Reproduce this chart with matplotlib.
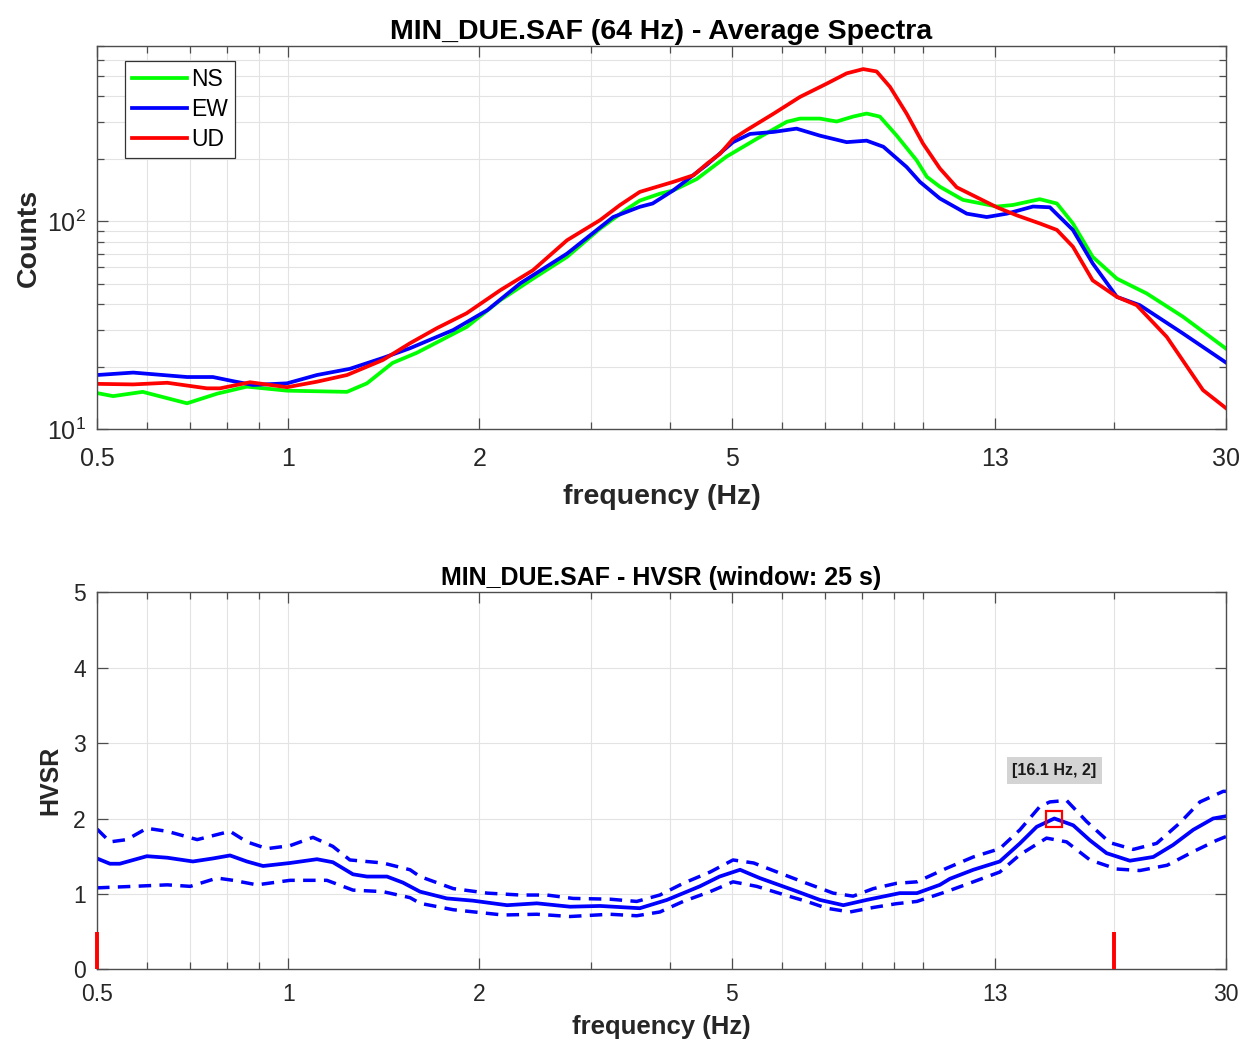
import numpy as np
import matplotlib
matplotlib.use("Agg")
import matplotlib.pyplot as plt
from matplotlib.ticker import FixedLocator, FixedFormatter, LogLocator, NullFormatter, MultipleLocator

plt.rcParams["font.family"] = ["Liberation Sans", "DejaVu Sans"]
plt.rcParams["mathtext.fontset"] = "custom"
plt.rcParams["mathtext.rm"] = "Liberation Sans"
plt.rcParams["mathtext.it"] = "Liberation Sans:italic"
plt.rcParams["mathtext.bf"] = "Liberation Sans:bold"
plt.rcParams["lines.scale_dashes"] = False
plt.rcParams["lines.solid_joinstyle"] = "round"
plt.rcParams["lines.dash_joinstyle"] = "round"

# ---- average spectra (Counts) ----
ns_freq = [0.5, 0.53, 0.59, 0.693, 0.773, 0.861, 0.996, 1.238, 1.331, 1.46, 1.595, 1.91,
           2.16, 2.43, 2.75, 3.10, 3.42, 3.58, 3.85, 4.04, 4.40, 4.90, 5.47, 6.10, 6.40,
           6.88, 7.31, 7.76, 8.15, 8.55, 9.08, 9.77, 10.14, 10.63, 11.56, 13.07, 13.85,
           15.27, 16.25, 17.22, 18.5, 20.2, 22.5, 25.65, 30.0]
ns_counts = [14.9, 14.4, 15.1, 13.3, 14.8, 16.0, 15.3, 15.1, 16.6, 20.8, 23.3, 31.0,
             41.8, 53.0, 67.5, 92.4, 115, 126, 136, 141, 160, 205, 250, 302, 313,
             313, 303, 320, 331, 320, 260, 197, 164, 147, 127, 118, 120,
             128, 122, 97.8, 67.5, 53.0, 45.0, 34.8, 24.4]

ew_freq = [0.5, 0.57, 0.693, 0.761, 0.819, 0.88, 0.996, 1.11, 1.251, 1.41, 1.556, 1.82,
           2.06, 2.32, 2.75, 3.25, 3.58, 3.75, 4.04, 4.56, 5.02, 5.34, 5.82, 6.32, 6.88,
           7.58, 8.15, 8.66, 9.42, 9.89, 10.63, 11.72, 12.6, 13.55, 14.9, 15.84, 17.22,
           18.5, 20.2, 21.95, 25.65, 30.0]
ew_counts = [18.2, 18.7, 17.8, 17.8, 17.0, 16.3, 16.6, 18.2, 19.5, 22.0, 24.5, 30.0,
             37.4, 50.3, 70.0, 105, 117.6, 122, 141, 187, 241, 264, 270, 280, 259,
             241, 245, 229, 183, 155, 129, 109, 105, 109, 118, 117, 91.0,
             62.8, 43.3, 39.5, 28.9, 20.9]

ud_freq = [0.5, 0.57, 0.645, 0.745, 0.781, 0.871, 0.996, 1.11, 1.238, 1.41, 1.556, 1.715,
           1.91, 2.16, 2.43, 2.75, 3.10, 3.33, 3.58, 4.04, 4.35, 4.57, 4.79, 5.02, 5.27,
           5.82, 6.40, 7.05, 7.58, 8.05, 8.45, 8.87, 9.42, 10.0, 10.63, 11.3, 13.07, 14.05,
           15.27, 16.25, 17.22, 18.5, 20.2, 21.7, 24.2, 27.6, 30.0]
ud_counts = [16.5, 16.4, 16.7, 15.7, 15.7, 16.8, 15.9, 16.9, 18.2, 21.5, 25.9, 30.6,
             36.1, 46.7, 58.2, 81.2, 101.5, 119.8, 138.8, 155, 167, 190, 212, 250, 275,
             331, 398, 461, 517, 542, 528, 445, 331, 237, 180, 146, 117, 107,
             97.8, 91.0, 75.6, 52.0, 43.3, 39.5, 27.8, 15.4, 12.6]

# ---- H/V spectral ratio ----
hv_freq = [0.5, 0.524, 0.543, 0.599, 0.645, 0.708, 0.761, 0.810, 0.861, 0.913, 1.007,
           1.11, 1.176, 1.265, 1.331, 1.431, 1.516, 1.613, 1.778, 1.955, 2.212, 2.465,
           2.78, 3.10, 3.58, 3.95, 4.45, 4.78, 5.15, 5.53, 6.25, 6.88, 7.49, 8.15, 9.19,
           9.78, 10.63, 11.02, 12.0, 13.21, 14.21, 15.1, 16.1, 17.24, 18.32, 19.46, 21.17,
           23.05, 24.77, 26.64, 28.64, 30.0]
hv_mean = [1.47, 1.40, 1.40, 1.50, 1.48, 1.43, 1.47, 1.51, 1.43, 1.37, 1.41,
           1.46, 1.42, 1.26, 1.23, 1.23, 1.15, 1.03, 0.94, 0.91, 0.85, 0.875,
           0.83, 0.84, 0.81, 0.92, 1.10, 1.23, 1.32, 1.21, 1.05, 0.92, 0.85, 0.92, 1.01,
           1.01, 1.12, 1.20, 1.32, 1.43, 1.67, 1.89, 2.00, 1.91, 1.71, 1.54, 1.44,
           1.49, 1.65, 1.85, 2.00, 2.03]

hv_up_freq = [0.5, 0.524, 0.557, 0.599, 0.645, 0.719, 0.810, 0.861, 0.926, 1.007, 1.094,
              1.176, 1.251, 1.41, 1.556, 1.613, 1.82, 2.06, 2.32, 2.556, 2.81, 3.21, 3.54,
              3.85, 4.19, 4.62, 5.02, 5.41, 6.06, 6.56, 7.22, 7.76, 8.35, 9.08, 9.78,
              10.89, 12.0, 13.21, 14.21, 15.28, 15.84, 16.83, 18.1, 19.69, 21.43, 23.33,
              25.37, 27.3, 29.7, 30.0]
hv_upper = [1.86, 1.69, 1.72, 1.87, 1.83, 1.72, 1.83, 1.69, 1.60, 1.64, 1.75,
            1.63, 1.45, 1.41, 1.32, 1.23, 1.07, 1.01, 0.985, 0.985, 0.94, 0.93, 0.90,
            0.985, 1.14, 1.29, 1.45, 1.41, 1.25, 1.14, 1.01, 0.97, 1.07, 1.14, 1.16,
            1.34, 1.49, 1.60, 1.85, 2.16, 2.22, 2.24, 1.96, 1.68, 1.59, 1.67,
            1.94, 2.22, 2.36, 2.36]

hv_lo_freq = [0.5, 0.570, 0.645, 0.701, 0.773, 0.819, 0.893, 1.007, 1.151, 1.265, 1.41,
              1.556, 1.613, 1.82, 2.18, 2.465, 2.78, 3.21, 3.54, 3.85, 4.19, 4.62, 5.02,
              5.47, 6.06, 6.56, 7.05, 7.67, 8.35, 9.08, 9.78, 10.89, 12.0, 13.21, 14.21,
              15.65, 16.83, 18.32, 20.18, 21.95, 24.24, 26.64, 29.0, 30.0]
hv_lower = [1.08, 1.10, 1.12, 1.10, 1.21, 1.18, 1.12, 1.18, 1.18, 1.05, 1.03,
            0.95, 0.875, 0.79, 0.72, 0.73, 0.70, 0.73, 0.71, 0.76, 0.90, 1.03, 1.16,
            1.10, 0.985, 0.90, 0.81, 0.76, 0.82, 0.87, 0.90, 1.03, 1.16, 1.29, 1.52,
            1.74, 1.69, 1.45, 1.33, 1.31, 1.38, 1.56, 1.71, 1.76]

range_limits = [0.5, 20.0]      # analysed frequency range
limit_mark_height = 0.5
peak_freq = 16.1
peak_hvsr = 2.0

freq_ticks = [0.5, 1, 2, 5, 13, 30]
freq_tick_labels = ["0.5", "1", "2", "5", "13", "30"]

TXT = "#262626"
AX = "#4d4d4d"
GRID = "#e3e3e3"

fig = plt.figure(figsize=(12.44, 10.39), dpi=100)
ax1 = fig.add_axes([0.078, 0.5871, 0.9075, 0.3686])
ax2 = fig.add_axes([0.078, 0.0671, 0.9075, 0.3628])


def style_freq_axis(ax, tick_size, xpad):
    ax.set_xscale("log")
    ax.set_xlim(0.5, 30)
    ax.xaxis.set_major_locator(FixedLocator(freq_ticks))
    ax.xaxis.set_major_formatter(FixedFormatter(freq_tick_labels))
    ax.xaxis.set_minor_locator(LogLocator(base=10, subs=np.arange(1, 10), numticks=20))
    ax.xaxis.set_minor_formatter(NullFormatter())
    ax.tick_params(which="both", direction="in", top=True, right=True,
                   colors=AX, labelcolor=TXT, labelsize=tick_size, width=0.9)
    ax.tick_params(which="major", length=8, pad=8)
    ax.tick_params(which="minor", length=5)
    ax.tick_params(axis="x", which="major", pad=xpad)
    for sp in ax.spines.values():
        sp.set_color(AX)
        sp.set_linewidth(1.0)
    ax.set_axisbelow(True)


# Spectra panel
style_freq_axis(ax1, 18, 13)
ax1.set_yscale("log")
ax1.set_ylim(10, 700)
ax1.yaxis.set_minor_locator(LogLocator(base=10, subs=np.arange(2, 10), numticks=20))
ax1.yaxis.set_minor_formatter(NullFormatter())
ax1.grid(True, which="both", color=GRID, lw=0.8)

ax1.plot(ns_freq, ns_counts, color="#00ff00", lw=2.7, label="NS")
ax1.plot(ew_freq, ew_counts, color="#0000ff", lw=2.7, label="EW")
ax1.plot(ud_freq, ud_counts, color="#ff0000", lw=2.7, label="UD")

leg = ax1.legend(loc="upper left", bbox_to_anchor=(0.0245, 0.96), fontsize=16.5,
                 frameon=True, fancybox=False, framealpha=1, edgecolor="#333333",
                 handlelength=2.4, handletextpad=0.2, labelspacing=0.3,
                 borderpad=0.3, borderaxespad=0.0)
leg.get_frame().set_linewidth(0.9)

ax1.set_title("MIN_DUE.SAF (64 Hz) - Average Spectra", fontsize=20.5,
              fontweight="bold", color="black", pad=5)
ax1.set_xlabel("frequency (Hz)", fontsize=20.5, fontweight="bold", color=TXT, labelpad=9)
ax1.set_ylabel("Counts", fontsize=20.5, fontweight="bold", color=TXT, labelpad=4)

# HVSR panel
style_freq_axis(ax2, 16.5, 10)
ax2.set_ylim(0, 5)
ax2.yaxis.set_major_locator(MultipleLocator(1))
ax2.grid(True, which="major", color=GRID, lw=0.8)
ax2.grid(True, which="minor", axis="x", color=GRID, lw=0.8)

dash = (9, 6)
ax2.plot(hv_up_freq, hv_upper, color="#0000ff", lw=2.5, dashes=dash)
ax2.plot(hv_lo_freq, hv_lower, color="#0000ff", lw=2.5, dashes=dash)
ax2.plot(hv_freq, hv_mean, color="#0000ff", lw=2.7)

for f in range_limits:
    ax2.plot([f, f], [0, limit_mark_height], color="#ff0000", lw=2.8,
             solid_capstyle="butt", clip_on=False, zorder=5)

ax2.plot([peak_freq], [peak_hvsr], marker="s", ms=11, mfc="none", mec="#ff0000",
         mew=1.6, ls="none", zorder=6)
ax2.annotate(f"[{peak_freq:.1f} Hz, {peak_hvsr:g}]", xy=(peak_freq, peak_hvsr),
             xytext=(0, 34.5), textcoords="offset points", ha="center", va="center",
             fontsize=11.5, fontweight="bold", color="#1a1a1a",
             bbox=dict(boxstyle="square,pad=0.35", fc="#d4d4d4", ec="none"))

ax2.set_title("MIN_DUE.SAF - HVSR (window: 25 s)", fontsize=18, fontweight="bold",
              color="black", pad=5)
ax2.set_xlabel("frequency (Hz)", fontsize=18.5, fontweight="bold", color=TXT, labelpad=6)
ax2.set_ylabel("HVSR", fontsize=18, fontweight="bold", color=TXT, labelpad=8)

fig.savefig("out.png", dpi=100, facecolor="white")
